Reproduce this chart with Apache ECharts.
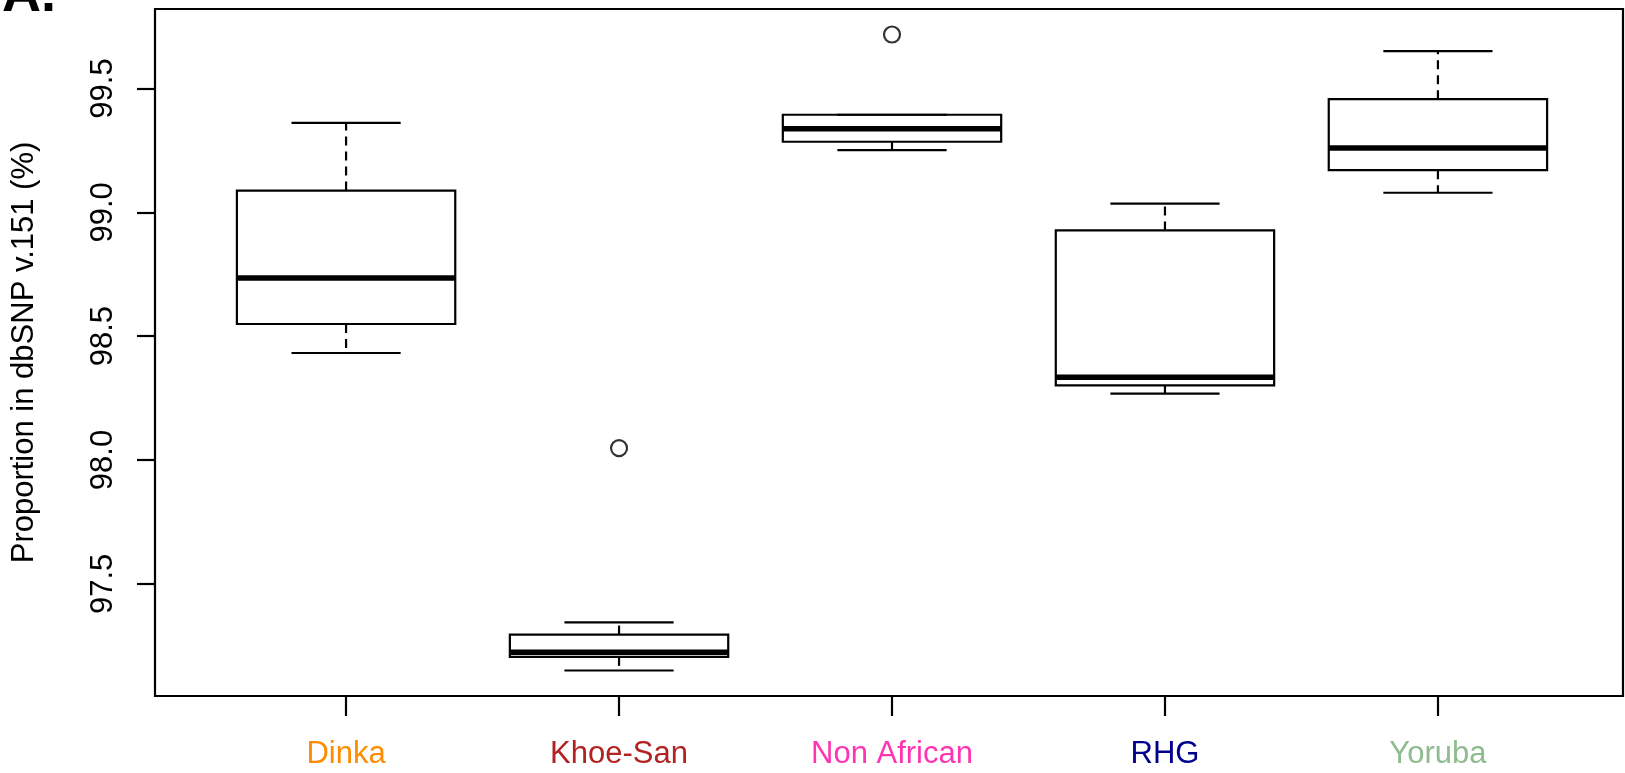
<!DOCTYPE html>
<html>
<head>
<meta charset="utf-8">
<script src="https://cdn.jsdelivr.net/npm/echarts@6/dist/echarts.min.js"></script>
<style>html,body{margin:0;padding:0;background:#fff;}#c{width:1625px;height:773px;}</style>
</head>
<body>
<div id="c"></div>
<script>
const categories = ['Dinka', 'Khoe-San', 'Non African', 'RHG', 'Yoruba'];
const labelColors = ['#FF8C00', '#B22222', '#FF34B3', '#00008B', '#8FBC8F'];
const whiskerLow  = [98.432, 97.150, 99.251, 98.268, 99.079];
const q1          = [98.549, 97.205, 99.285, 98.301, 99.170];
const median      = [98.735, 97.224, 99.337, 98.334, 99.260];
const q3          = [99.088, 97.295, 99.394, 98.927, 99.457];
const whiskerHigh = [99.361, 97.344, 99.394, 99.035, 99.651];
const outliers    = [[2, 98.048], [3, 99.718]];
const yTicks = [97.5, 98.0, 98.5, 99.0, 99.5];
const xTicks = [1, 2, 3, 4, 5];

const boxData = categories.map((c, i) => [i + 1, whiskerLow[i], q1[i], median[i], q3[i], whiskerHigh[i]]);
const FONT = '"Liberation Sans", Arial, Helvetica, sans-serif';

const chart = echarts.init(document.getElementById('c'), null, {renderer: 'canvas'});
chart.setOption({
  animation: false,
  backgroundColor: '#fff',
  grid: {left: 155, right: 2, top: 9, bottom: 77, show: true, borderColor: '#000', borderWidth: 2.2, backgroundColor: 'transparent'},
  graphic: [{
    type: 'text', left: 2, top: -31,
    style: {text: 'A.', font: 'bold 54px ' + FONT, fill: '#000'}
  }],
  xAxis: {
    type: 'value', min: 0.3, max: 5.678,
    splitLine: {show: false},
    axisLine: {show: false},
    axisTick: {show: true, length: 20, inside: false, customValues: xTicks, lineStyle: {color: '#000', width: 2.2}},
    axisLabel: {
      customValues: xTicks, margin: 43, fontSize: 31, fontFamily: FONT,
      formatter: v => categories[Math.round(v) - 1],
      color: (v, i) => labelColors[Math.round(Number(v)) - 1]
    }
  },
  yAxis: {
    type: 'value', min: 97.047, max: 99.821,
    name: 'Proportion in dbSNP v.151 (%)', nameLocation: 'middle', nameRotate: 90, nameGap: 115,
    nameTextStyle: {fontSize: 31, fontFamily: FONT, color: '#000'},
    splitLine: {show: false},
    axisLine: {show: false},
    axisTick: {show: true, length: 18, inside: false, customValues: yTicks, lineStyle: {color: '#000', width: 2.2}},
    axisLabel: {
      customValues: yTicks, rotate: 90, margin: 36, fontSize: 31, fontFamily: FONT, color: '#000',
      formatter: v => Number(v).toFixed(1)
    }
  },
  series: [{
    type: 'custom',
    data: boxData,
    encode: {x: 0, y: [1, 2, 3, 4, 5]},
    renderItem: function (params, api) {
      const x = api.value(0);
      const lo = api.value(1), a = api.value(2), m = api.value(3), b = api.value(4), hi = api.value(5);
      const hw = 0.4, cw = 0.2;
      const p = (xx, yy) => api.coord([xx, yy]);
      const ln = (p1, p2, style) => ({type: 'line', shape: {x1: p1[0], y1: p1[1], x2: p2[0], y2: p2[1]}, style: style});
      const solid = {stroke: '#000', lineWidth: 2.2};
      const dashed = {stroke: '#000', lineWidth: 2.2, lineDash: [9, 6]};
      const tl = p(x - hw, b), br = p(x + hw, a);
      return {
        type: 'group',
        children: [
          ln(p(x, b), p(x, hi), dashed),
          ln(p(x, a), p(x, lo), dashed),
          ln(p(x - cw, hi), p(x + cw, hi), solid),
          ln(p(x - cw, lo), p(x + cw, lo), solid),
          {type: 'rect', shape: {x: tl[0], y: tl[1], width: br[0] - tl[0], height: br[1] - tl[1]}, style: {fill: 'transparent', stroke: '#000', lineWidth: 2.2}},
          ln(p(x - hw, m), p(x + hw, m), {stroke: '#000', lineWidth: 5.5})
        ]
      };
    }
  }, {
    type: 'scatter',
    data: outliers,
    symbol: 'circle',
    symbolSize: 16,
    itemStyle: {color: 'transparent', borderColor: '#000', borderWidth: 2.2}
  }]
});
</script>
</body>
</html>
